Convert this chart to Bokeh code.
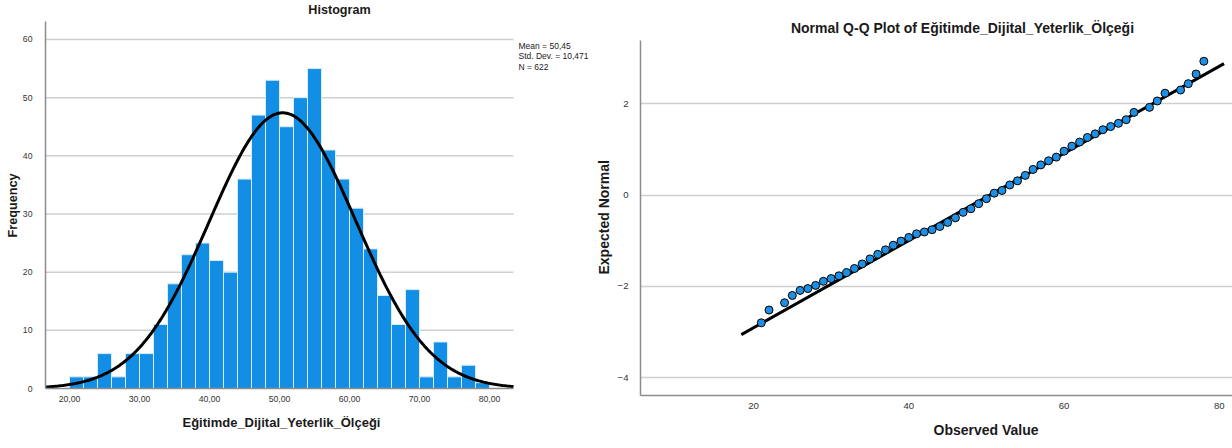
import numpy as np
from bokeh.plotting import figure
from bokeh.layouts import row, column
from bokeh.models import FixedTicker, Range1d, Label, ColumnDataSource, Title
from bokeh.embed import file_html
from bokeh.resources import INLINE

FONT = "Liberation Sans"

# ---------------- Histogram data ----------------
bin_left = [20, 22, 24, 26, 28, 30, 32, 34, 36, 38, 40, 42, 44, 46, 48,
            50, 52, 54, 56, 58, 60, 62, 64, 66, 68, 70, 72, 74, 76, 78]
frequency = [2, 2, 6, 2, 6, 6, 11, 18, 23, 25, 22, 20, 36, 47, 53,
             45, 50, 55, 41, 36, 31, 24, 16, 11, 17, 2, 8, 2, 4, 1]
bin_width = 2
mean_value = 50.45
std_dev = 10.471
n_obs = 622
hist_x_min, hist_x_max = 16.57, 83.43
hist_y_max = 63.1
hist_x_ticks = [20, 30, 40, 50, 60, 70, 80]
hist_x_labels = ["20,00", "30,00", "40,00", "50,00", "60,00", "70,00", "80,00"]
hist_y_ticks = [0, 10, 20, 30, 40, 50, 60]
stats_lines = ["Mean = 50,45", "Std. Dev. = 10,471", "N = 622"]

# ---------------- Q-Q data ----------------
observed = [21, 22, 24, 25, 26, 27, 28, 29, 30, 31, 32, 33, 34, 35, 36, 37, 38, 39,
            40, 41, 42, 43, 44, 45, 46, 47, 48, 49, 50, 51, 52, 53, 54, 55, 56, 57,
            58, 59, 60, 61, 62, 63, 64, 65, 66, 67, 68, 69, 71, 72, 73, 75, 76, 77, 78]
expected = [-2.80, -2.52, -2.36, -2.20, -2.09, -2.05, -1.98, -1.89, -1.83, -1.77,
            -1.70, -1.61, -1.51, -1.40, -1.30, -1.20, -1.10, -1.01, -0.93, -0.85,
            -0.81, -0.76, -0.69, -0.60, -0.50, -0.38, -0.30, -0.19, -0.08, 0.04,
            0.10, 0.22, 0.31, 0.43, 0.56, 0.66, 0.75, 0.83, 0.96, 1.07, 1.16,
            1.26, 1.34, 1.43, 1.50, 1.57, 1.65, 1.81, 1.92, 2.06, 2.23, 2.30,
            2.44, 2.65, 2.93]
qq_line_x = [18.43, 80.6]
qq_x_ticks = [20, 40, 60, 80]
qq_y_ticks = [-4, -2, 0, 2]
qq_y_min, qq_y_axis_top = -4.392, 3.377

BAR_BLUE = "#128ee5"
GRID = "#cfcfcf"
AXIS = "#8c8c8c"
TICK_TXT = "#333333"
TXT = "#1a1a1a"


def style(p, tick_size):
    p.outline_line_color = None
    p.xgrid.grid_line_color = None
    p.ygrid.grid_line_color = GRID
    p.ygrid.grid_line_width = 1.5
    for ax in (p.xaxis[0], p.yaxis[0]):
        ax.axis_line_color = AXIS
        ax.axis_line_width = 1.5
        ax.major_tick_line_color = None
        ax.minor_tick_line_color = None
        ax.major_label_text_font = FONT
        ax.major_label_text_font_size = tick_size
        ax.major_label_text_color = TICK_TXT
    p.background_fill_color = "white"
    p.border_fill_color = "white"


def side_title(text, size, align, offset, standoff):
    return Title(text=text, text_font=FONT, text_font_style="bold",
                 text_font_size=size, text_color=TXT, align=align,
                 offset=offset, standoff=standoff)


# ---------------- Histogram figure ----------------
p1 = figure(width=591, height=446, output_backend="svg", toolbar_location=None,
            title=None,
            x_range=Range1d(hist_x_min, 94.57), y_range=Range1d(0, 66.70),
            min_border_left=45, min_border_right=0, min_border_top=0,
            min_border_bottom=58)
style(p1, "8.7px")
p1.ygrid.grid_line_color = None
p1.xaxis.ticker = FixedTicker(ticks=hist_x_ticks)
p1.xaxis.major_label_overrides = {t: l for t, l in zip(hist_x_ticks, hist_x_labels)}
p1.yaxis.ticker = FixedTicker(ticks=hist_y_ticks)
p1.xaxis.bounds = (hist_x_min, hist_x_max)
p1.yaxis.bounds = (0, hist_y_max)
p1.xaxis.major_label_standoff = 1
p1.yaxis.major_label_standoff = 7

grid_ticks = hist_y_ticks[1:]
p1.segment(x0=[hist_x_min] * len(grid_ticks), x1=[hist_x_max] * len(grid_ticks),
           y0=grid_ticks, y1=grid_ticks, line_color=GRID, line_width=1.5)

src = ColumnDataSource(dict(left=bin_left,
                            right=[b + bin_width for b in bin_left],
                            top=frequency))
p1.quad(left="left", right="right", top="top", bottom=0, source=src,
        fill_color=BAR_BLUE, line_color="#d9ecfb", line_width=1)

xs = np.linspace(hist_x_min, hist_x_max, 300)
ys = n_obs * bin_width * np.exp(-0.5 * ((xs - mean_value) / std_dev) ** 2) / (std_dev * np.sqrt(2 * np.pi))
p1.line(xs, ys, line_color="black", line_width=3)

p1.add_layout(side_title("Eğitimde_Dijital_Yeterlik_Ölçeği", "13px", "left", 137, 17), "below")
p1.add_layout(side_title("Frequency", "12.7px", "left", 151, 0), "left")

p1.add_layout(Label(x=294, y=379, x_units="screen", y_units="screen",
                    text="Histogram", text_font=FONT, text_font_style="bold",
                    text_font_size="12.6px", text_align="center",
                    text_baseline="middle", text_color=TXT))
for i, line in enumerate(stats_lines):
    p1.add_layout(Label(x=473, y=342.3 - 10.2 * i, x_units="screen", y_units="screen",
                        text=line, text_font=FONT, text_font_size="8.5px",
                        text_align="left", text_baseline="middle",
                        text_color=TXT))

# ---------------- Q-Q figure ----------------
p2 = figure(width=641, height=446, output_backend="svg", toolbar_location=None,
            title=None,
            x_range=Range1d(5.444, 81.69), y_range=Range1d(qq_y_min, 4.261),
            min_border_left=48, min_border_right=0, min_border_top=0,
            min_border_bottom=49)
style(p2, "9.6px")
p2.xaxis.ticker = FixedTicker(ticks=qq_x_ticks)
p2.yaxis.ticker = FixedTicker(ticks=qq_y_ticks)
p2.yaxis.bounds = (qq_y_min, qq_y_axis_top)
p2.xaxis.major_label_standoff = 1
p2.yaxis.major_label_standoff = 6

qq_line_y = [(x - mean_value) / std_dev for x in qq_line_x]
p2.line(qq_line_x, qq_line_y, line_color="black", line_width=3)
p2.scatter(observed, expected, size=8, fill_color="#1f8fe3",
           line_color="black", line_width=1)

p2.add_layout(side_title("Observed Value", "14px", "left", 293, 17), "below")
p2.add_layout(side_title("Expected Normal", "14px", "left", 121, 5), "left")

p2.add_layout(Label(x=322, y=368, x_units="screen", y_units="screen",
                    text="Normal Q-Q Plot of Eğitimde_Dijital_Yeterlik_Ölçeği",
                    text_font=FONT, text_font_style="bold", text_font_size="14px",
                    text_align="center", text_baseline="middle",
                    text_color=TXT))

layout = row(p1, column(p2))
open("out.html", "w").write(file_html(layout, INLINE))
